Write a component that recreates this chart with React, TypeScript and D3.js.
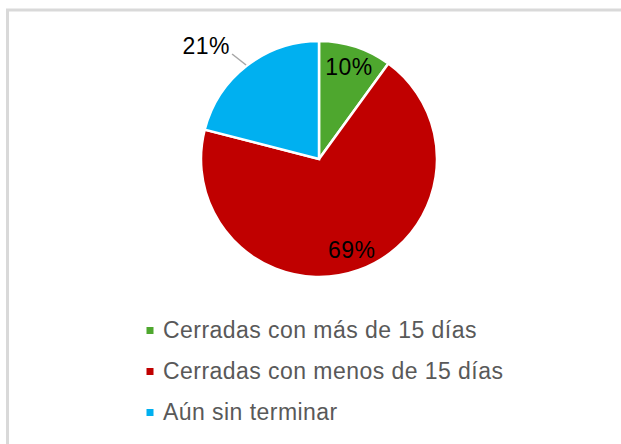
import React from "react";
import * as d3 from "d3";

const categories = [
  "Cerradas con más de 15 días",
  "Cerradas con menos de 15 días",
  "Aún sin terminar",
];
const values = [10, 69, 21];
const labels = ["10%", "69%", "21%"];
const colors = ["#4ea72e", "#c00000", "#00b0f0"];

const W = 621;
const H = 444;
const cx = 319;
const cy = 159;
const R = 118;

export default function App() {
  const pie = d3.pie<number>().sort(null).value((d) => d)(values);
  const arc = d3.arc<d3.PieArcDatum<number>>().innerRadius(0).outerRadius(R);
  const labelArc = d3
    .arc<d3.PieArcDatum<number>>()
    .innerRadius(R * 0.82)
    .outerRadius(R * 0.82);

  return (
    <svg
      width={W}
      height={H}
      style={{ position: "absolute", left: 0, top: 0, display: "block" }}
      fontFamily="'Liberation Sans', Arial, sans-serif"
    >
      <rect x={0} y={0} width={W} height={H} fill="#fff" />
      <rect
        x={7.5}
        y={10}
        width={W + 20}
        height={H + 20}
        fill="#fff"
        stroke="#d9d9d9"
        strokeWidth={3}
      />
      <g transform={`translate(${cx},${cy})`}>
        {pie.map((p, i) => (
          <path
            key={i}
            d={arc(p) || ""}
            fill={colors[i]}
            stroke="#fff"
            strokeWidth={2.5}
          />
        ))}
        {pie.map((p, i) => {
          if (i === 2) {
            const mid = (p.startAngle + p.endAngle) / 2;
            const x1 = Math.sin(mid) * (R + 1);
            const y1 = -Math.cos(mid) * (R + 1);
            const x2 = x1 - 14;
            const y2 = y1 - 11;
            return (
              <g key={i}>
                <line x1={x1} y1={y1} x2={x2} y2={y2} stroke="#a6a6a6" strokeWidth={1.5} />
                <text
                  x={x2 - 2}
                  y={y2}
                  textAnchor="end"
                  fontSize={23}
                  letterSpacing={0.5}
                  fill="#000"
                >
                  {labels[i]}
                </text>
              </g>
            );
          }
          const [lx, ly] = labelArc.centroid(p);
          return (
            <text
              key={i}
              x={lx}
              y={ly + 8}
              textAnchor="middle"
              fontSize={23}
              letterSpacing={0.5}
              fill="#000"
            >
              {labels[i]}
            </text>
          );
        })}
      </g>
      <g>
        {categories.map((c, i) => {
          const baseline = 338 + i * 41;
          return (
            <g key={i}>
              <rect x={146.5} y={baseline - 11} width={7} height={7} fill={colors[i]} />
              <text x={163} y={baseline} fontSize={23} letterSpacing={0.45} fill="#595959">
                {c}
              </text>
            </g>
          );
        })}
      </g>
    </svg>
  );
}
